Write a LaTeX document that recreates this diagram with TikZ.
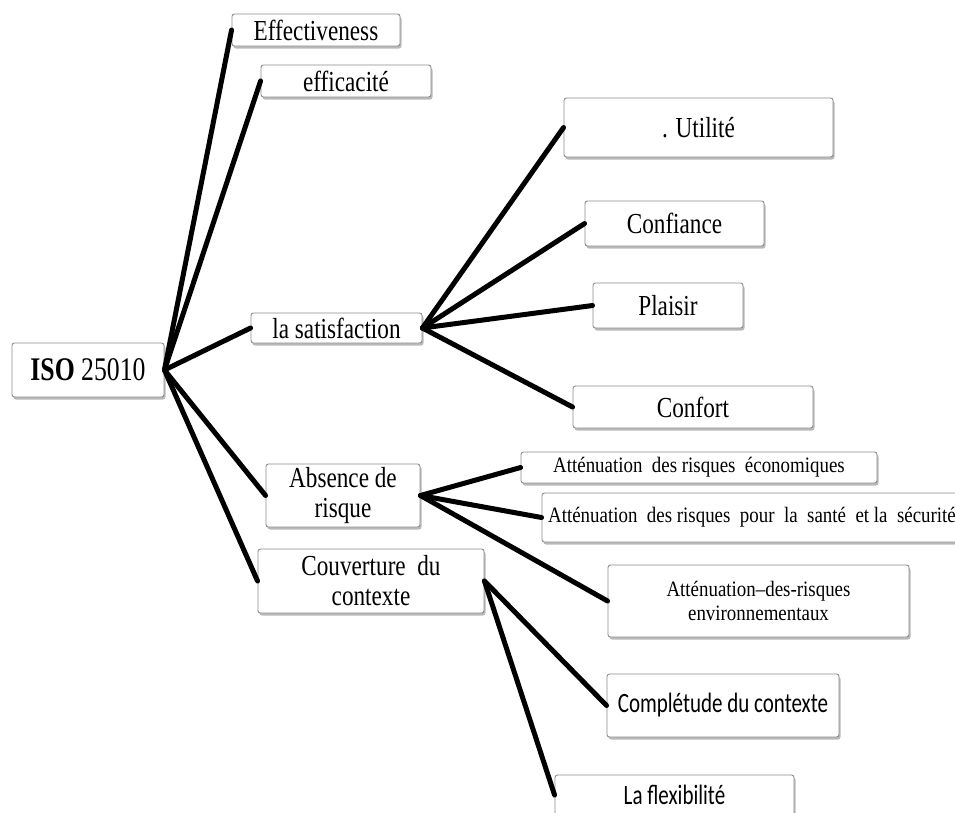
\documentclass[tikz,border=0pt]{standalone}
\usepackage{fontspec}
\setmainfont{Liberation Serif}
\newfontfamily\serifbig[FakeStretch=0.78]{Liberation Serif}
\newfontfamily\serifmid[FakeStretch=0.8]{Liberation Serif}
\newfontfamily\serifsmall[FakeStretch=0.86]{Liberation Serif}
\newfontfamily\sansmid[FakeStretch=0.75]{Carlito}
\usetikzlibrary{shadows}

\tikzset{
  box/.style={draw=black!45, line width=0.9pt, fill=white, rounded corners=2.5pt,
    drop shadow={shadow xshift=1.5pt, shadow yshift=-2.5pt, fill=black!50, opacity=0.55},
    inner sep=0pt, align=center},
  txtA/.style={font=\serifmid\fontsize{29}{30}\selectfont},
  txtS/.style={font=\serifsmall\fontsize{22}{24}\selectfont},
  txtC/.style={font=\sansmid\fontsize{28}{30}\selectfont},
  link/.style={line width=5pt, black, line cap=round},
}

\begin{document}
\begin{tikzpicture}[x=1pt, y={(0pt,-1pt)}]
  \useasboundingbox (0,0) rectangle (955,812);

  % root
  \node[box, minimum width=152pt, minimum height=54pt,
        font=\serifbig\fontsize{33}{35}\selectfont] (iso) at (88,370)
        {\textbf{ISO}\ 25010};

  % first level
  \node[box, txtA, minimum width=168pt, minimum height=32pt] (eff)  at (316,30)    {Effectiveness};
  \node[box, txtA, minimum width=170pt, minimum height=32pt] (effi) at (346,81)    {efficacité};
  \node[box, txtA, minimum width=171pt, minimum height=30pt] (sat)  at (336.5,328) {la satisfaction};
  \node[box, txtA, minimum width=154pt, minimum height=63pt] (abs)  at (343,495.5) {Absence de\\risque};
  \node[box, txtA, minimum width=226pt, minimum height=64pt] (couv) at (371,581)   {Couverture\ \ du\\contexte};

  % satisfaction
  \node[box, txtA, minimum width=269pt, minimum height=59pt] (util) at (698.5,127.5) {. Utilité};
  \node[box, txtA, minimum width=179pt, minimum height=45pt] (conf) at (674.5,223.5) {Confiance};
  \node[box, txtA, minimum width=150pt, minimum height=45pt] (plai) at (668,305.5)   {Plaisir};
  \node[box, txtA, minimum width=240pt, minimum height=42pt] (cfrt) at (693,407)     {Confort};

  % absence de risque
  \node[box, txtS, minimum width=356pt, minimum height=31pt] (eco)  at (699,467.5) {Atténuation\ \ des risques\ \ économiques};
  \node[box, txtS, minimum width=420pt, minimum height=49pt] (sant) at (752,517.5) {Atténuation\ \ des risques\ \ pour\ \ la\ \ santé\ \ et la\ \ sécurité};
  \node[box, txtS, minimum width=301pt, minimum height=72pt] (env)  at (758.5,601) {Atténuation–des-risques\\environnementaux};

  % couverture du contexte
  \node[box, txtC, minimum width=232pt, minimum height=63pt] (comp) at (723,705.5) {Complétude du contexte};
  \node[box, txtC, minimum width=239pt, minimum height=40pt] (flex) at (674.5,795) {La flexibilité};

  % connectors
  \foreach \c in {eff,effi,sat,abs,couv}
    \draw[link] (iso.east) -- (\c.west);
  \foreach \c in {util,conf,plai,cfrt}
    \draw[link] (sat.east) -- (\c.west);
  \foreach \c in {eco,sant,env}
    \draw[link] (abs.east) -- (\c.west);
  \foreach \c in {comp,flex}
    \draw[link] (couv.east) -- (\c.west);
\end{tikzpicture}
\end{document}
